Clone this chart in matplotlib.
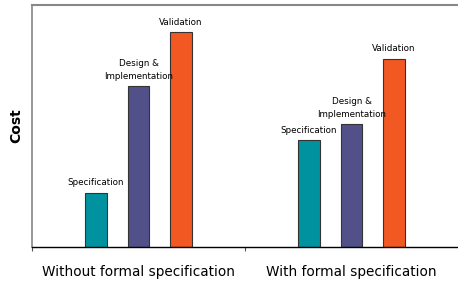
import matplotlib.pyplot as plt
import numpy as np

groups = ["Without formal specification", "With formal specification"]
phases = ["Specification", "Design &\nImplementation", "Validation"]
colors = ["#00939f", "#525089", "#f25822"]

# relative cost (axis 0..100)
spec = [22.3, 44.2]
design = [66.5, 50.8]
valid = [88.8, 77.7]

fig = plt.figure(figsize=(4.58, 2.81), dpi=100)
ax = fig.add_axes([0.0699, 0.121, 0.9301, 0.861])

x = np.arange(len(groups))
w = 0.1
for i, (vals, lab, c) in enumerate(zip([spec, design, valid], phases, colors)):
    xs = x + (i - 1) * 0.2
    bars = ax.bar(xs, vals, width=w, color=c, edgecolor="#333333", linewidth=0.8)
    for b in bars:
        ax.annotate(lab, (b.get_x() + b.get_width() / 2, b.get_height()),
                    xytext=(0, 4), textcoords="offset points",
                    ha="center", va="bottom", fontsize=6.3, linespacing=1.5)

ax.set_xlim(-0.5, 1.5)
ax.set_ylim(0, 100)
ax.set_yticks([])
ax.set_xticks([-0.5, 0.5])
ax.set_xticklabels([])
ax.tick_params(axis="x", length=3, width=0.8, color="#555555")
for xi, g in zip(x, groups):
    ax.text(xi, -0.105, g, transform=ax.get_xaxis_transform(),
            ha="center", va="center", fontsize=9.8, fontweight="medium")
ax.set_ylabel("Cost", fontsize=10, fontweight="bold", labelpad=6)

ax.spines["right"].set_visible(False)
ax.spines["left"].set_color("#888888")
ax.spines["top"].set_color("#888888")
ax.spines["top"].set_linewidth(1.5)
ax.spines["left"].set_linewidth(1.2)
ax.spines["bottom"].set_color("black")
ax.spines["bottom"].set_linewidth(1.0)

fig.savefig("out.png", dpi=100)
